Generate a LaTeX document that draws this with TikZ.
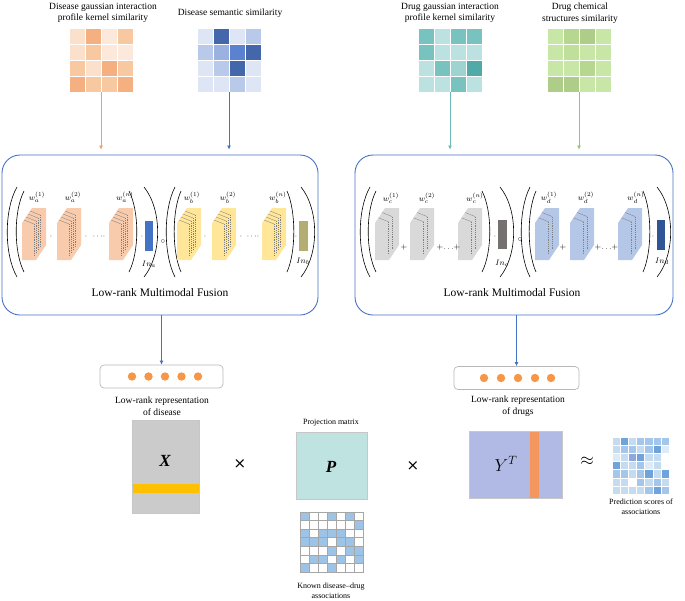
\documentclass[tikz,border=0pt]{standalone}
\usepackage{fontspec}
\setmainfont{Liberation Serif}
\newfontfamily\symfont{DejaVu Sans}
\usetikzlibrary{arrows.meta}

\definecolor{OL}{HTML}{FBE0CC}
\definecolor{OLL}{HTML}{FCE9DC}
\definecolor{OM}{HTML}{F8C8A0}
\definecolor{OD}{HTML}{F4B080}
\definecolor{BL}{HTML}{DEE6F5}
\definecolor{BM}{HTML}{B8C9EA}
\definecolor{BMM}{HTML}{9BB2E0}
\definecolor{BMD}{HTML}{5B82D0}
\definecolor{BD}{HTML}{4466AA}
\definecolor{TL}{HTML}{BBE1E1}
\definecolor{TM}{HTML}{78C2C0}
\definecolor{TMM}{HTML}{9FD3D2}
\definecolor{TD}{HTML}{4FAAA8}
\definecolor{GL}{HTML}{C8E6A5}
\definecolor{GM}{HTML}{B5D78F}
\definecolor{GMM}{HTML}{BFE09A}
\definecolor{GD}{HTML}{ADCD88}
\definecolor{PA}{HTML}{FFFFFF}
\definecolor{PB}{HTML}{DDEBF7}
\definecolor{PC}{HTML}{C5DCF0}
\definecolor{PD}{HTML}{A3C6EA}
\definecolor{PE}{HTML}{6FA4DB}
\definecolor{PF}{HTML}{8FA8DC}
\definecolor{KB}{HTML}{9DC3E6}
\definecolor{boxblue}{HTML}{4472C4}
\definecolor{tenA}{HTML}{F8CBAD}
\definecolor{tenB}{HTML}{FFE699}
\definecolor{tenC}{HTML}{D9D9D9}
\definecolor{tenD}{HTML}{B4C7E7}
\definecolor{barA}{HTML}{4472C4}
\definecolor{barB}{HTML}{B5AE72}
\definecolor{barC}{HTML}{767171}
\definecolor{barD}{HTML}{2F5597}
\definecolor{arrOrange}{HTML}{EDA06C}
\definecolor{arrBlue}{HTML}{4472C4}
\definecolor{arrTeal}{HTML}{6BBAB8}
\definecolor{arrGreen}{HTML}{92C66A}
\definecolor{dotOrange}{HTML}{F79646}
\definecolor{Xgray}{HTML}{CBCBCB}
\definecolor{Xyellow}{HTML}{FFC000}
\definecolor{Pteal}{HTML}{BEE3E0}
\definecolor{Ylav}{HTML}{B0BAE4}
\definecolor{Ystripe}{HTML}{F4975E}

\newcommand\cellgrid[7]{%
  \foreach \cc [count=\k from 0] in {#7} {%
    \pgfmathtruncatemacro\rr{\k/#5}%
    \pgfmathtruncatemacro\qq{mod(\k,#5)}%
    \filldraw[fill=\cc, draw=#6, line width=0.8pt] ({#1+\qq*#3},{#2+\rr*#4}) rectangle ++(#3,#4);
  }}

\newcommand\tensorshape[4]{%
  \fill[#3] ({#1},{#2+15}) -- ({#1+10},{#2}) -- ({#1+24},{#2}) -- ({#1+24},{#2+37}) -- ({#1+14},{#2+52}) -- ({#1},{#2+52}) -- cycle;
  \foreach \t in {#4} {%
    \draw[layerline] ({#1+10*\t},{#2+15-15*\t}) -- ++(10,4) coordinate (tmp);
    \draw[layerline, dash pattern=on 1.2pt off 1pt] (tmp) -- ++(0,33);
  }}

\newcommand\lpar[4]{\draw[parenline] ({#1+#2},#3) .. controls ({#1-0.3*#2},{#3+0.25*(#4-#3)}) and ({#1-0.3*#2},{#4-0.25*(#4-#3)}) .. ({#1+#2},#4);}
\newcommand\rpar[4]{\draw[parenline] ({#1-#2},#3) .. controls ({#1+0.3*#2},{#3+0.25*(#4-#3)}) and ({#1+0.3*#2},{#4-0.25*(#4-#3)}) .. ({#1-#2},#4);}

\begin{document}
\begin{tikzpicture}[x=1pt,y=-1pt,
  toplabel/.style={align=center, font=\fontsize{9.5}{11.5}\selectfont, inner sep=0},
  fuselabel/.style={font=\fontsize{11.5}{13}\selectfont, inner sep=0},
  replabel/.style={align=center, font=\fontsize{9.5}{11.5}\selectfont, inner sep=0},
  smalllabel/.style={align=center, font=\fontsize{8}{10}\selectfont, inner sep=0},
  wlabel/.style={font=\fontsize{8}{9}\selectfont, inner sep=0},
  inlabel/.style={font=\fontsize{8.5}{9}\selectfont, inner sep=0},
  opn/.style={font=\fontsize{8}{9}\selectfont, inner sep=0},
  fusebox/.style={draw=boxblue, line width=0.9pt, rounded corners=18pt, inner sep=0},
  dotbox/.style={draw=black!28, line width=0.7pt, rounded corners=4pt, inner sep=0, minimum width=123pt, minimum height=23pt},
  phantombox/.style={inner sep=0},
  conn/.style={line width=0.7pt, -{Latex[length=4pt,width=4pt]}},
  layerline/.style={draw=black!50, line width=0.3pt},
  parenline/.style={draw=black, line width=0.6pt},
  matbox/.style={draw=black!22, line width=0.6pt},
  bigmath/.style={font=\fontsize{17}{17}\selectfont, inner sep=0},
]
\useasboundingbox (0,0) rectangle (685,600);

% ---------------- top labels ----------------
\node[toplabel] (t1) at (103,13) {Disease gaussian interaction\\profile kernel similarity};
\node[toplabel] (t2) at (230,13) {Disease semantic similarity};
\node[toplabel] (t3) at (450,13) {Drug gaussian interaction\\profile kernel similarity};
\node[toplabel] (t4) at (580,13) {Drug chemical\\structures similarity};

% ---------------- similarity matrices ----------------
\cellgrid{69}{28}{16}{16}{4}{white}{OL,OD,OLL,OM, OL,OM,OLL,OLL, OM,OL,OD,OM, OD,OM,OM,OD}
\cellgrid{197}{28}{16}{16}{4}{white}{BL,BD,BL,BM, BM,BMM,BMD,BD, BL,BM,BD,BL, BL,BL,BM,BL}
\cellgrid{418}{28}{16}{16}{4}{white}{TM,TL,TM,TM, TM,TL,TL,TL, TL,TM,TMM,TD, TL,TL,TM,TL}
\cellgrid{547}{28}{16}{16}{4}{white}{GL,GM,GD,GL, GL,GMM,GL,GL, GL,GL,GM,GL, GD,GD,GL,GL}
\node[phantombox, minimum width=64pt, minimum height=64pt] (m1) at (101,60) {};
\node[phantombox, minimum width=64pt, minimum height=64pt] (m2) at (229,60) {};
\node[phantombox, minimum width=64pt, minimum height=64pt] (m3) at (450,60) {};
\node[phantombox, minimum width=64pt, minimum height=64pt] (m4) at (579,60) {};

% ---------------- fusion boxes ----------------
\node[fusebox, minimum width=316pt, minimum height=160pt] (lbox) at (160,235) {};
\node[fusebox, minimum width=318pt, minimum height=160pt] (rbox) at (514,235) {};

\draw[conn, arrOrange, shorten >=5pt] (m1.south) -- (m1.south |- lbox.north);
\draw[conn, arrBlue, shorten >=5pt] (m2.south) -- (m2.south |- lbox.north);
\draw[conn, arrTeal, shorten >=5pt] (m3.south) -- (m3.south |- rbox.north);
\draw[conn, arrGreen, shorten >=5pt] (m4.south) -- (m4.south |- rbox.north);

% ----- group a -----
\lpar{7}{10}{187}{277}
\lpar{16}{8}{191}{272}
\tensorshape{22}{208}{tenA}{0.2,0.4,0.6,0.8}
\tensorshape{57}{208}{tenA}{0.2,0.4,0.6,0.8}
\tensorshape{109}{208}{tenA}{0.2,0.4,0.6,0.8}
\node[wlabel] (wa1) at (37,197) {$w_a^{(1)}$};
\node[wlabel] (wa2) at (73,197) {$w_a^{(2)}$};
\node[wlabel] (wan) at (125,197) {$w_a^{(n)}$};
\node[opn] (oa1) at (51,237) {$\cdot$};
\node[opn] (oa2) at (86,237) {$\cdot$};
\node[opn] (oa3) at (99,237) {$\cdots\!\cdot$};
\rpar{137}{8}{191}{272}
\node[opn] (oa4) at (142,237) {$\cdot$};
\fill[barA] (145,221) rectangle (153,251);
\node[inlabel] (ina) at (149,264) {$In_a$};
\rpar{158}{14}{187}{277}
\node[opn] (circ1) at (163,242) {$\circ$};

% ----- group b -----
\lpar{166}{9}{187}{277}
\lpar{174}{7}{191}{272}
\tensorshape{177}{208}{tenB}{0.2,0.4,0.6,0.8}
\tensorshape{212}{208}{tenB}{0.2,0.4,0.6,0.8}
\tensorshape{262}{208}{tenB}{0.2,0.4,0.6,0.8}
\node[wlabel] (wb1) at (192,198) {$w_b^{(1)}$};
\node[wlabel] (wb2) at (228,198) {$w_b^{(2)}$};
\node[wlabel] (wbn) at (278,198) {$w_b^{(n)}$};
\node[opn] (ob1) at (205,237) {$\cdot$};
\node[opn] (ob2) at (241,237) {$\cdot$};
\node[opn] (ob3) at (253,237) {$\cdots\!\cdot$};
\rpar{294}{7}{191}{272}
\node[opn] (ob4) at (296,237) {$\cdot$};
\fill[barB] (299,221) rectangle (308,251);
\node[inlabel] (inb) at (303,261) {$In_b$};
\rpar{315}{14}{187}{277}

\node[fuselabel] (f1) at (160,293) {Low-rank Multimodal Fusion};

% ----- group c -----
\lpar{360}{10}{187}{277}
\lpar{368}{8}{191}{272}
\tensorshape{375}{208}{tenC}{0.35,0.7}
\tensorshape{410}{208}{tenC}{0.35,0.7}
\tensorshape{458}{208}{tenC}{0.35,0.7}
\node[wlabel] (wc1) at (391,198) {$w_c^{(1)}$};
\node[wlabel] (wc2) at (427,198) {$w_c^{(2)}$};
\node[wlabel] (wcn) at (475,198) {$w_c^{(n)}$};
\node[opn] (oc1) at (404,247) {$+$};
\node[opn] (oc2) at (440,247) {$+$};
\node[opn] (oc3) at (452,247) {$\ldots\!+$};
\rpar{490}{8}{191}{272}
\node[opn] (oc4) at (495,237) {$\cdot$};
\fill[barC] (498,220) rectangle (507,249);
\node[inlabel] (inc) at (502,263) {$In_c$};
\rpar{514}{14}{187}{277}
\node[opn] (circ2) at (520,240) {$\circ$};

% ----- group d -----
\lpar{521}{9}{187}{277}
\lpar{529}{7}{191}{272}
\tensorshape{535}{208}{tenD}{0.35,0.7}
\tensorshape{570}{208}{tenD}{0.35,0.7}
\tensorshape{618}{208}{tenD}{0.35,0.7}
\node[wlabel] (wd1) at (549,198) {$w_d^{(1)}$};
\node[wlabel] (wd2) at (586,198) {$w_d^{(2)}$};
\node[wlabel] (wdn) at (636,198) {$w_d^{(n)}$};
\node[opn] (od1) at (563,247) {$+$};
\node[opn] (od2) at (598,247) {$+$};
\node[opn] (od3) at (610,247) {$\ldots\!+$};
\rpar{650}{7}{191}{272}
\node[opn] (od4) at (653,237) {$\cdot$};
\fill[barD] (657,220) rectangle (665,250);
\node[inlabel] (ind) at (662,261) {$In_d$};
\rpar{671}{14}{187}{277}

\node[fuselabel] (f2) at (512,293) {Low-rank Multimodal Fusion};

% ---------------- low-rank representations ----------------
\node[dotbox] (ldots) at (161.5,376.5) {};
\node[dotbox, minimum width=125pt] (rdots) at (516.5,378) {};
\foreach \xx [count=\i] in {132,148.5,165,181.5,198} {\fill[dotOrange] (\xx,376.5) circle (4.2);}
\foreach \xx [count=\i] in {484,501,518,535,551} {\fill[dotOrange] (\xx,378) circle (4.2);}
\draw[conn, boxblue] (ldots.north |- lbox.south) -- (ldots.north);
\draw[conn, boxblue] (rdots.north |- rbox.south) -- (rdots.north);

\node[replabel] (lr1) at (162,406) {Low-rank representation\\of disease};
\node[replabel] (lr2) at (518,406) {Low-rank representation\\of drugs};

% ---------------- X ----------------
\fill[Xgray] (132,420) rectangle (199,513);
\fill[Xyellow] (132,484) rectangle (199,493);
\draw[matbox] (132,420) rectangle (199,513);
\node[bigmath] (X) at (165,461) {\bfseries\itshape X};

\node[font=\symfont\fontsize{15}{15}\selectfont, inner sep=0] (times1) at (240,464) {×};

% ---------------- P ----------------
\node[smalllabel] (pl) at (331,423) {Projection matrix};
\node[draw=black!22, fill=Pteal, line width=0.6pt, minimum width=71pt, minimum height=67pt, inner sep=0] (P) at (331.5,465.5) {};
\node[bigmath] (Plab) at (331,467) {\bfseries\itshape P};

\cellgrid{300}{512}{9}{8.6}{7}{black!35}{KB,PA,PA,KB,PA,KB,PA, PA,PA,PA,PA,PA,PA,KB, KB,PA,KB,KB,KB,PA,PA, KB,KB,KB,PA,KB,KB,PA, PA,PA,PA,KB,PA,KB,KB, PA,KB,KB,PA,KB,PA,KB, KB,PA,PA,KB,PA,PA,PA}
\node[smalllabel] (kl) at (331,591) {Known disease–drug\\associations};

\node[font=\symfont\fontsize{15}{15}\selectfont, inner sep=0] (times2) at (413,466) {×};

% ---------------- Y^T ----------------
\fill[Ylav] (469,431) rectangle (562,498);
\fill[Ystripe] (530,431) rectangle (539,498);
\draw[matbox] (469,431) rectangle (562,498);
\node[bigmath] (Y) at (506,464) {$Y^T$};

\node[font=\fontsize{16}{16}\selectfont, inner sep=0] (approx) at (587,461) {$\approx$};

% ---------------- prediction ----------------
\cellgrid{612}{437}{8.2}{8.2}{7}{white}{PC,PE,PC,PD,PD,PD,PD, PC,PD,PD,PC,PD,PE,PB, PB,PC,PF,PE,PC,PC,PA, PE,PC,PC,PD,PB,PC,PA, PD,PD,PC,PD,PE,PC,PE, PC,PC,PA,PD,PC,PD,PC, PC,PC,PC,PC,PD,PE,PD}
\node[smalllabel] (pr) at (641,507) {Prediction scores of\\associations};

\end{tikzpicture}
\end{document}
